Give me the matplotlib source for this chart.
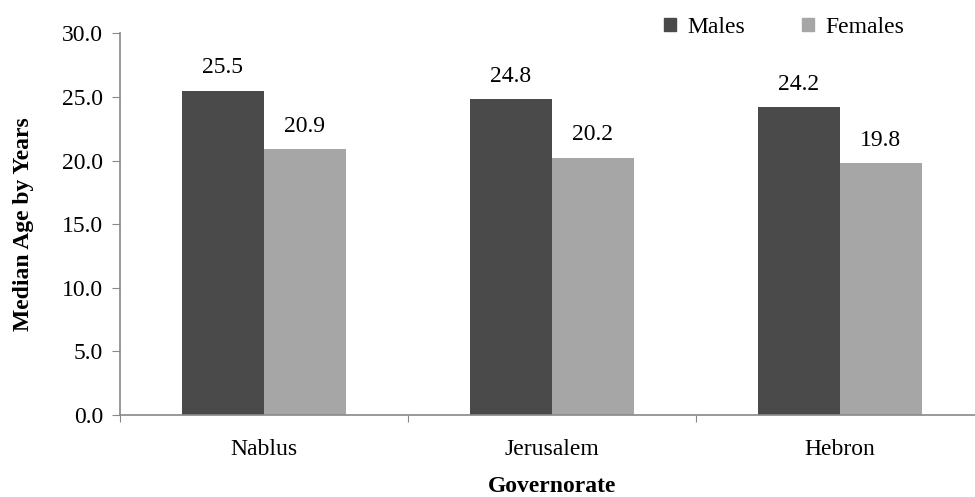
import numpy as np
import matplotlib.pyplot as plt
from matplotlib.patches import Patch

governorates = ['Nablus', 'Jerusalem', 'Hebron']
males = [25.5, 24.8, 24.2]
females = [20.9, 20.2, 19.8]

dark = '#4a4a4a'
light = '#a6a6a6'

plt.rcParams['font.family'] = ['Liberation Serif', 'DejaVu Serif']
fs = 17

fig = plt.figure(figsize=(9.75, 4.97), dpi=100)
ax = fig.add_axes([0.123, 0.165, 0.886, 0.768])

x = np.arange(len(governorates))
w = 0.285
b1 = ax.bar(x - w / 2, males, w, color=dark, label='Males')
b2 = ax.bar(x + w / 2, females, w, color=light, label='Females')

for bars in (b1, b2):
    for rect in bars:
        h = rect.get_height()
        ax.annotate(f'{h:.1f}', (rect.get_x() + rect.get_width() / 2, h),
                    xytext=(0, 9), textcoords='offset points',
                    ha='center', va='bottom', fontsize=fs)

ax.set_xlim(-0.5, 2.5)
ax.set_ylim(0, 30)
ax.set_yticks(np.arange(0, 31, 5))
ax.set_yticklabels([f'{v:.1f}' for v in np.arange(0, 31, 5)], fontsize=fs)

ax.set_xticks(np.arange(-0.5, 3, 1))
ax.set_xticklabels([])
ax.set_xticks(x, minor=True)
ax.set_xticklabels(governorates, minor=True, fontsize=fs)
ax.tick_params(axis='x', which='minor', length=0, pad=17)
ax.tick_params(axis='x', which='major', length=5, color='#888888', direction='out')
ax.tick_params(axis='y', length=6, color='#888888', direction='out', pad=6)

for s in ('top', 'right'):
    ax.spines[s].set_visible(False)
for s in ('left', 'bottom'):
    ax.spines[s].set_color('#888888')
    ax.spines[s].set_linewidth(1.2)

ax.set_ylabel('Median Age by Years', fontsize=fs, fontweight='bold', labelpad=20)
ax.set_xlabel('Governorate', fontsize=fs, fontweight='bold', labelpad=11.5)

handles = [Patch(color=dark), Patch(color=light)]
fig.legend(handles, ['Males', 'Females'], loc='center left',
           bbox_to_anchor=(0.681, 0.945), ncol=2, frameon=False,
           fontsize=fs, handlelength=0.5, handleheight=0.5, borderpad=0,
           borderaxespad=0, handletextpad=0.5, columnspacing=2.4)

fig.savefig('out.png', dpi=100)
